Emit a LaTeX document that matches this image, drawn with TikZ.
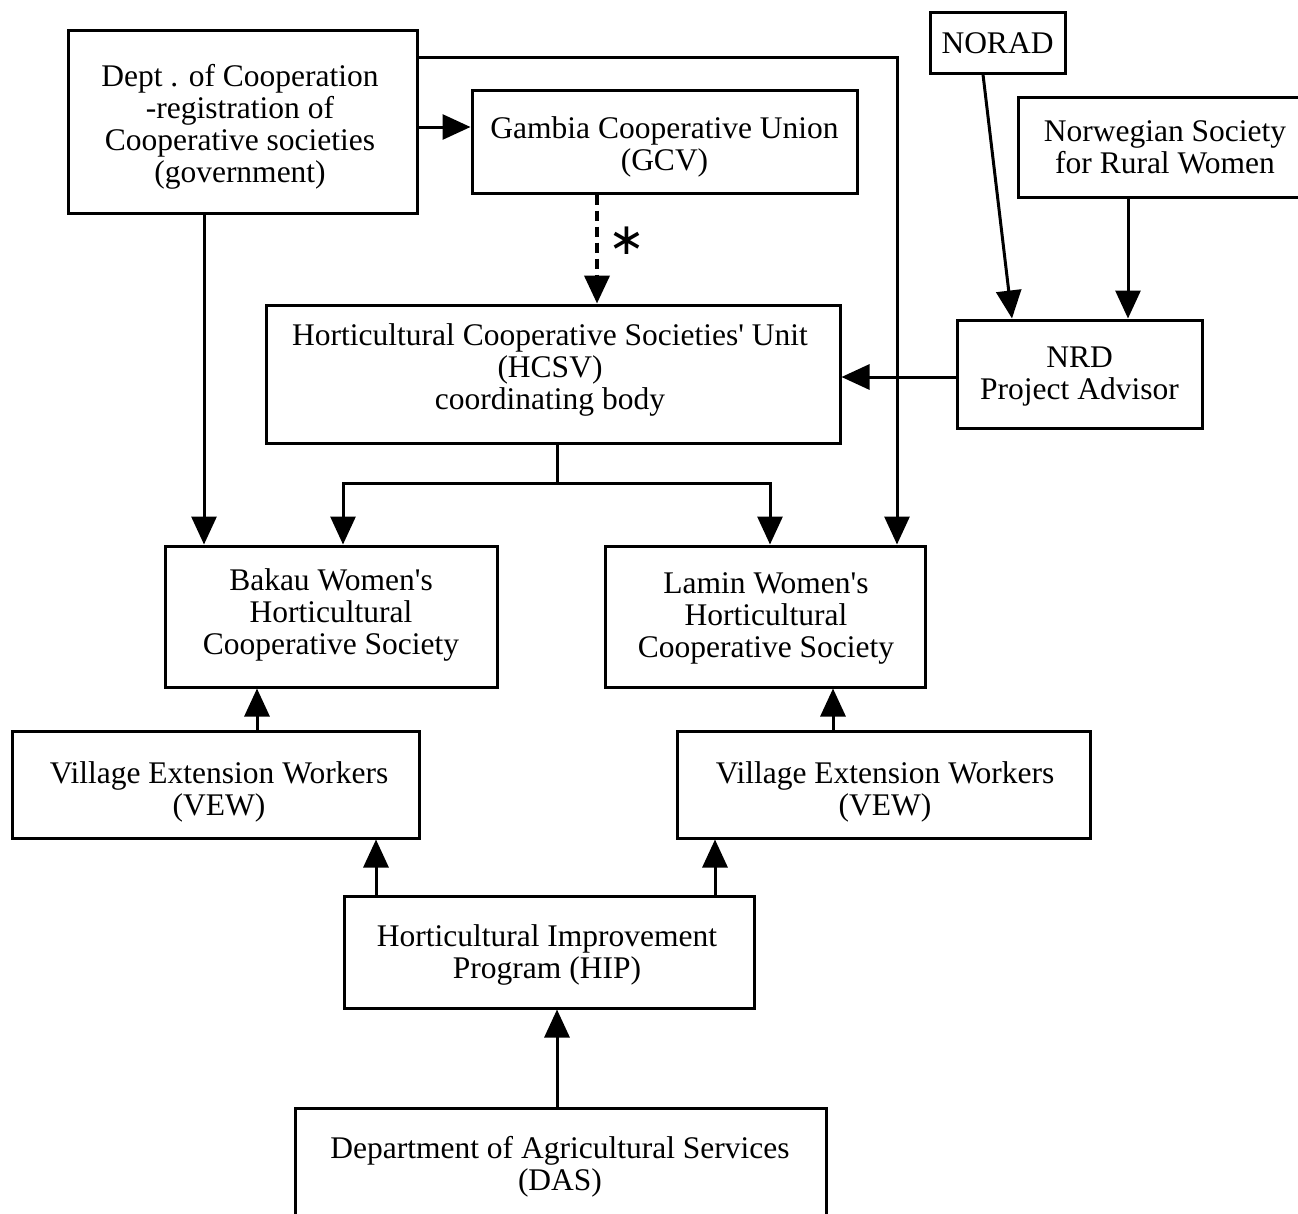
\documentclass[tikz,border=0pt]{standalone}
\usepackage{fontspec}
\setmainfont{Liberation Serif}
\newfontfamily\symfnt{DejaVu Sans}
\usetikzlibrary{arrows.meta}
\begin{document}
\begin{tikzpicture}[x=1pt,y=-1pt,
  box/.style={draw,line width=3pt,rectangle,inner sep=0pt},
  txt/.style={inner sep=0pt,align=center,font=\fontsize{31.5}{32}\selectfont},
  conn/.style={line width=3pt},
  arr/.style={conn,-{Triangle[length=28pt,width=25pt]}}]
\useasboundingbox (0,0) rectangle (1298,1213);
\fill[white] (0,0) rectangle (1298,1213);
\clip (0,0) rectangle (1298,1213);

\node[box,minimum width=349pt,minimum height=183pt] (dept) at (242.5,121.5) {};
\node[txt] (dept-t) at (240,126.5)
  {Dept . of Cooperation\\-registration of\\Cooperative societies\\(government)};
\node[box,minimum width=385pt,minimum height=103pt] (gcu) at (664.5,141.5) {};
\node[txt] (gcu-t) at (664.5,146.5) {Gambia Cooperative Union\\(GCV)};
\node[box,minimum width=135pt,minimum height=61pt] (norad) at (997.5,42.5) {};
\node[txt] (norad-t) at (997.5,43.5) {NORAD};
\node[box,minimum width=294pt,minimum height=100pt] (nsrw) at (1165,147) {};
\node[txt] (nsrw-t) at (1165,147) {Norwegian Society\\for Rural Women};
\node[box,minimum width=574pt,minimum height=138pt] (hcsu) at (553,374) {};
\node[txt] (hcsu-t) at (550,369.5)
  {Horticultural Cooperative Societies\textquotesingle\ Unit\\(HCSV)\\coordinating body};
\node[box,minimum width=245pt,minimum height=108pt] (nrd) at (1079.5,374) {};
\node[txt] (nrd-t) at (1079.5,377) {NRD\\Project Advisor};
\node[box,minimum width=332pt,minimum height=141pt] (bakau) at (331,616.5) {};
\node[txt] (bakau-t) at (331,614.5) {Bakau Women\textquotesingle s\\Horticultural\\Cooperative Society};
\node[box,minimum width=320pt,minimum height=141pt] (lamin) at (765,616.5) {};
\node[txt] (lamin-t) at (766,618.5) {Lamin Women\textquotesingle s\\Horticultural\\Cooperative Society};
\node[box,minimum width=407pt,minimum height=107pt] (vewl) at (215.5,784.5) {};
\node[txt] (vewl-t) at (219,791.5) {Village Extension Workers\\(VEW)};
\node[box,minimum width=413pt,minimum height=107pt] (vewr) at (883.5,784.5) {};
\node[txt] (vewr-t) at (885,791.5) {Village Extension Workers\\(VEW)};
\node[box,minimum width=410pt,minimum height=112pt] (hip) at (549,952) {};
\node[txt] (hip-t) at (547,954.5) {Horticultural Improvement\\Program (HIP)};
\node[box,minimum width=531pt,minimum height=117pt] (das) at (560.5,1166.5) {};
\node[txt] (das-t) at (560,1167) {Department of Agricultural Services\\(DAS)};

\node[inner sep=0pt,font=\fontsize{44}{44}\selectfont\symfnt] (star) at (627,241) {∗};

% connectors
\draw[arr] ([yshift=-5.5pt]dept.east) -- ([yshift=-5.5pt]dept.east -| gcu.west);
\draw[arr] ([yshift=64.5pt]dept.east) -| ([xshift=132pt]lamin.north);
\draw[arr] ([xshift=-38.5pt]dept.south) -- ([xshift=-38.5pt]dept.south |- bakau.north);
\draw[arr,dash pattern=on 10pt off 6pt,line width=4pt] ([xshift=-67.5pt]gcu.south) -- ([xshift=-67.5pt]gcu.south |- hcsu.north);
\draw[arr] ([xshift=-14.5pt]norad.south) -- ([xshift=-67.5pt]nrd.north);
\draw[arr] ([xshift=-37pt]nsrw.south) -- ([xshift=-37pt]nsrw.south |- nrd.north);
\draw[arr] ([yshift=-3pt]nrd.west) -- ([yshift=-3pt]nrd.west -| hcsu.east);
\coordinate (split) at (557,483);
\draw[conn] ([xshift=4pt]hcsu.south) -- (split);
\draw[arr] (split) -| ([xshift=12pt]bakau.north);
\draw[arr] (split) -| ([xshift=5pt]lamin.north);
\draw[arr] ([xshift=41.5pt]vewl.north) -- ([xshift=41.5pt]vewl.north |- bakau.south);
\draw[arr] ([xshift=-50.5pt]vewr.north) -- ([xshift=-50.5pt]vewr.north |- lamin.south);
\draw[arr] ([xshift=-173pt]hip.north) -- ([xshift=-173pt]hip.north |- vewl.south);
\draw[arr] ([xshift=166pt]hip.north) -- ([xshift=166pt]hip.north |- vewr.south);
\draw[arr] ([xshift=-3.5pt]das.north) -- ([xshift=-3.5pt]das.north |- hip.south);
\end{tikzpicture}
\end{document}
